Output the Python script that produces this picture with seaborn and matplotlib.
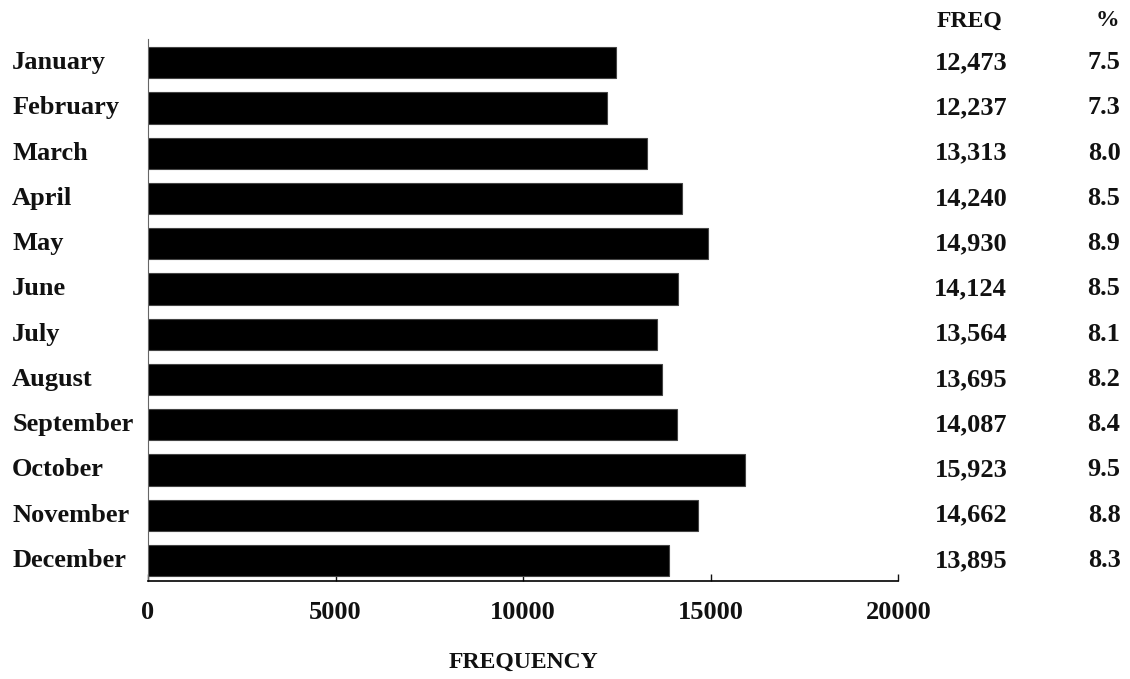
import matplotlib.pyplot as plt
import pandas as pd
import seaborn as sns

months = ['January', 'February', 'March', 'April', 'May', 'June', 'July',
          'August', 'September', 'October', 'November', 'December']
freq = [12473, 12237, 13313, 14240, 14930, 14124, 13564, 13695, 14087, 15923, 14662, 13895]
pct = ['7.5', '7.3', '8.0', '8.5', '8.9', '8.5', '8.1', '8.2', '8.4', '9.5', '8.8', '8.3']
xticks = [0, 5000, 10000, 15000, 20000]

df = pd.DataFrame({'Month': months, 'Frequency': freq})

sns.set_style('white')
plt.rcParams['font.family'] = ['Liberation Serif', 'DejaVu Serif']
plt.rcParams['font.weight'] = 'bold'
plt.rcParams['text.color'] = '#111111'
plt.rcParams['axes.labelcolor'] = '#111111'
plt.rcParams['xtick.color'] = '#111111'

fig = plt.figure(figsize=(11.3, 6.79), dpi=100)
ax = fig.add_axes([0.131, 0.144, 0.664, 0.799])

sns.barplot(data=df, x='Frequency', y='Month', color='black', width=0.69,
            edgecolor='#444444', linewidth=0.8, ax=ax, orient='h')

ax.set_xlim(0, 20000)
ax.set_ylim(11.46, -0.53)
ax.set_xticks(xticks)
ax.set_xticklabels([str(t) for t in xticks], fontsize=19, fontweight='bold')
ax.tick_params(axis='x', direction='in', length=5, width=1, pad=14, bottom=True)
ax.set_yticks([])
ax.set_ylabel('')
ax.set_xlabel('FREQUENCY', fontsize=17, fontweight='bold', labelpad=20)

for s in ['top', 'right']:
    ax.spines[s].set_visible(False)
ax.spines['bottom'].set_color('black')
ax.spines['bottom'].set_linewidth(1.2)
ax.spines['left'].set_color('#666666')
ax.spines['left'].set_linewidth(0.8)

# month names on the left, FREQ and % columns on the right
trans = ax.get_yaxis_transform()
for i, (m, f, p) in enumerate(zip(months, freq, pct)):
    ax.text(-0.181, i, m, transform=trans, fontsize=19, fontweight='bold', ha='left', va='center')
    ax.text(1.145, i, f'{f:,}', transform=trans, fontsize=19, fontweight='bold', ha='right', va='center')
    ax.text(1.296, i, p, transform=trans, fontsize=19, fontweight='bold', ha='right', va='center')

fig.text(969 / 1130, 1 - 21 / 679, 'FREQ', fontsize=17, fontweight='bold', ha='center', va='center')
fig.text(1107 / 1130, 1 - 21 / 679, '%', fontsize=17, fontweight='bold', ha='center', va='center')

fig.savefig('out.png', dpi=100)
